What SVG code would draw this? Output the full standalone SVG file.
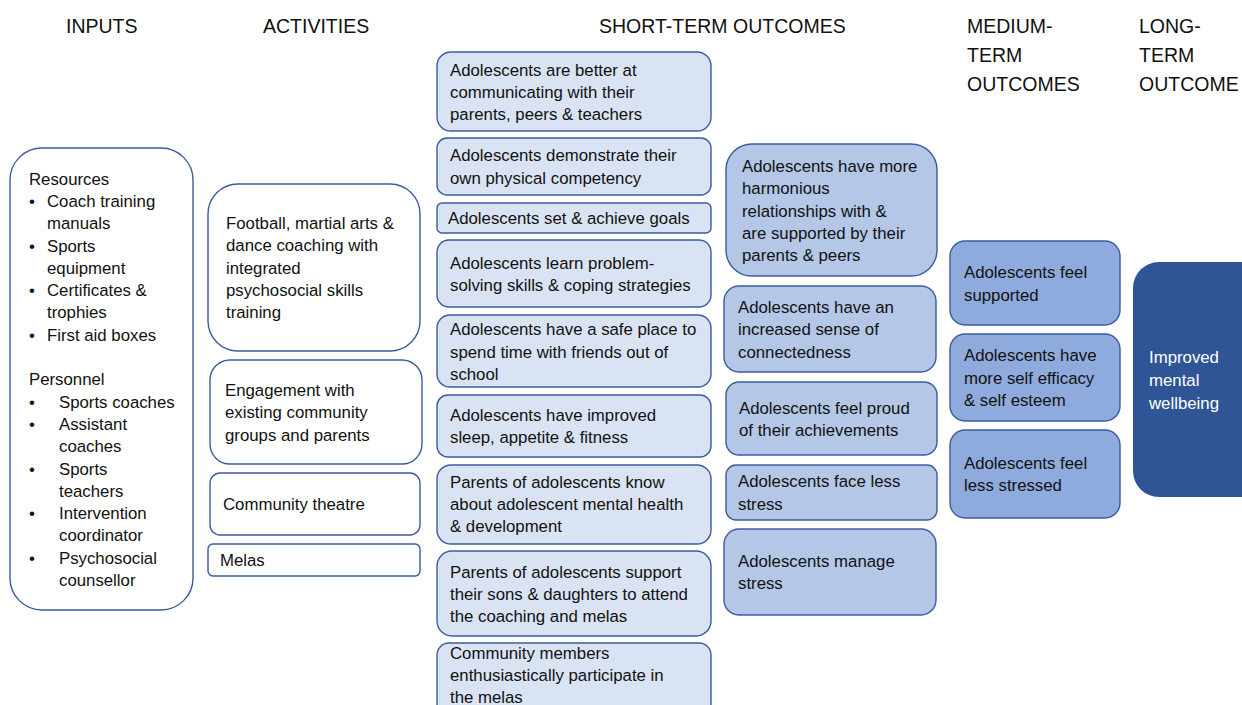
<svg xmlns="http://www.w3.org/2000/svg" width="1242" height="705" viewBox="0 0 1242 705">
<style>
text{font-family:"Liberation Sans",Arial,sans-serif;font-size:16.8px;fill:#111}
.h{font-size:19.5px}
.w{stroke:#3A5C9E;stroke-width:1.4;fill:#fff}
.s1{stroke:#3A5C9E;stroke-width:1.4;fill:#DAE3F3}
.s2{stroke:#3A5C9E;stroke-width:1.4;fill:#B4C7E7}
.m{stroke:#3A5C9E;stroke-width:1.4;fill:#8FAADC}
.l{fill:#2F5597}
.wt{fill:#fff}
</style>
<rect width="1242" height="705" fill="#fff"/>
<g id="headers">
<text class="h" x="66" y="33">INPUTS</text>
<text class="h" x="263" y="33">ACTIVITIES</text>
<text class="h" x="599" y="33">SHORT-TERM OUTCOMES</text>
<text class="h" x="967" y="33">MEDIUM-</text>
<text class="h" x="967" y="62">TERM</text>
<text class="h" x="967" y="91">OUTCOMES</text>
<text class="h" x="1139" y="33">LONG-</text>
<text class="h" x="1139" y="62">TERM</text>
<text class="h" x="1139" y="91">OUTCOME</text>
</g>
<g id="connectors"></g>
<g id="inputs">
<rect class="w" x="10" y="148" width="183" height="462" rx="32"/>
<text x="29" y="185">Resources</text>
<text x="29" y="207">•</text><text x="47" y="207">Coach training</text>
<text x="47" y="229">manuals</text>
<text x="29" y="252">•</text><text x="47" y="252">Sports</text>
<text x="47" y="274">equipment</text>
<text x="29" y="296">•</text><text x="47" y="296">Certificates &amp;</text>
<text x="47" y="318">trophies</text>
<text x="29" y="341">•</text><text x="47" y="341">First aid boxes</text>
<text x="29" y="385">Personnel</text>
<text x="29" y="408">•</text><text x="59" y="408">Sports coaches</text>
<text x="29" y="430">•</text><text x="59" y="430">Assistant</text>
<text x="59" y="452">coaches</text>
<text x="29" y="475">•</text><text x="59" y="475">Sports</text>
<text x="59" y="497">teachers</text>
<text x="29" y="519">•</text><text x="59" y="519">Intervention</text>
<text x="59" y="541">coordinator</text>
<text x="29" y="564">•</text><text x="59" y="564">Psychosocial</text>
<text x="59" y="586">counsellor</text>
</g>
<g id="act1">
<rect class="w" x="208" y="184" width="212" height="167" rx="30"/>
<text x="226" y="229">Football, martial arts &amp;</text>
<text x="226" y="251">dance coaching with</text>
<text x="226" y="274">integrated</text>
<text x="226" y="296">psychosocial skills</text>
<text x="226" y="318">training</text>
</g>
<g id="act2">
<rect class="w" x="210" y="360" width="212" height="104" rx="20"/>
<text x="225" y="396">Engagement with</text>
<text x="225" y="418">existing community</text>
<text x="225" y="441">groups and parents</text>
</g>
<g id="act3">
<rect class="w" x="210" y="473" width="210" height="62" rx="10"/>
<text x="223" y="510">Community theatre</text>
</g>
<g id="act4">
<rect class="w" x="208" y="544" width="212" height="32" rx="5"/>
<text x="220" y="566">Melas</text>
</g>
<g id="st1">
<rect class="s1" x="437" y="52" width="274" height="79" rx="14"/>
<text x="450" y="76">Adolescents are better at</text>
<text x="450" y="98">communicating with their</text>
<text x="450" y="120">parents, peers &amp; teachers</text>
</g>
<g id="st2">
<rect class="s1" x="437" y="138" width="274" height="57" rx="10"/>
<text x="450" y="161">Adolescents demonstrate their</text>
<text x="450" y="184">own physical competency</text>
</g>
<g id="st3">
<rect class="s1" x="437" y="203" width="274" height="30" rx="5"/>
<text x="448" y="224">Adolescents set &amp; achieve goals</text>
</g>
<g id="st4">
<rect class="s1" x="437" y="240" width="274" height="67" rx="12"/>
<text x="450" y="269">Adolescents learn problem-</text>
<text x="450" y="291">solving skills &amp; coping strategies</text>
</g>
<g id="st5">
<rect class="s1" x="437" y="315" width="274" height="72" rx="13"/>
<text x="450" y="335">Adolescents have a safe place to</text>
<text x="450" y="358">spend time with friends out of</text>
<text x="450" y="380">school</text>
</g>
<g id="st6">
<rect class="s1" x="437" y="395" width="274" height="62" rx="11"/>
<text x="450" y="421">Adolescents have improved</text>
<text x="450" y="443">sleep, appetite &amp; fitness</text>
</g>
<g id="st7">
<rect class="s1" x="437" y="465" width="274" height="79" rx="14"/>
<text x="450" y="488">Parents of adolescents know</text>
<text x="450" y="510">about adolescent mental health</text>
<text x="450" y="532">&amp; development</text>
</g>
<g id="st8">
<rect class="s1" x="437" y="551" width="274" height="85" rx="15"/>
<text x="450" y="578">Parents of adolescents support</text>
<text x="450" y="600">their sons &amp; daughters to attend</text>
<text x="450" y="622">the coaching and melas</text>
</g>
<g id="st9">
<rect class="s1" x="437" y="643" width="274" height="80" rx="12"/>
<text x="450" y="659">Community members</text>
<text x="450" y="681">enthusiastically participate in</text>
<text x="450" y="703">the melas</text>
</g>
<g id="sc1">
<rect class="s2" x="726" y="144" width="211" height="132" rx="26"/>
<text x="742" y="172">Adolescents have more</text>
<text x="742" y="194">harmonious</text>
<text x="742" y="217">relationships with &amp;</text>
<text x="742" y="239">are supported by their</text>
<text x="742" y="261">parents &amp; peers</text>
</g>
<g id="sc2">
<rect class="s2" x="724" y="286" width="212" height="86" rx="15"/>
<text x="738" y="313">Adolescents have an</text>
<text x="738" y="335">increased sense of</text>
<text x="738" y="358">connectedness</text>
</g>
<g id="sc3">
<rect class="s2" x="726" y="382" width="211" height="73" rx="13"/>
<text x="739" y="414">Adolescents feel proud</text>
<text x="739" y="436">of their achievements</text>
</g>
<g id="sc4">
<rect class="s2" x="726" y="465" width="211" height="55" rx="10"/>
<text x="738" y="487">Adolescents face less</text>
<text x="738" y="510">stress</text>
</g>
<g id="sc5">
<rect class="s2" x="724" y="529" width="212" height="86" rx="15"/>
<text x="738" y="567">Adolescents manage</text>
<text x="738" y="589">stress</text>
</g>
<g id="mt1">
<rect class="m" x="950" y="241" width="170" height="84" rx="15"/>
<text x="964" y="278">Adolescents feel</text>
<text x="964" y="301">supported</text>
</g>
<g id="mt2">
<rect class="m" x="950" y="334" width="170" height="87" rx="15"/>
<text x="964" y="361">Adolescents have</text>
<text x="964" y="384">more self efficacy</text>
<text x="964" y="406">&amp; self esteem</text>
</g>
<g id="mt3">
<rect class="m" x="950" y="430" width="170" height="88" rx="15"/>
<text x="964" y="469">Adolescents feel</text>
<text x="964" y="491">less stressed</text>
</g>
<g id="lt1">
<rect class="l" x="1133" y="262" width="140" height="235" rx="26"/>
<text class="wt" x="1149" y="363">Improved</text>
<text class="wt" x="1149" y="386">mental</text>
<text class="wt" x="1149" y="409">wellbeing</text>
</g>
</svg>
